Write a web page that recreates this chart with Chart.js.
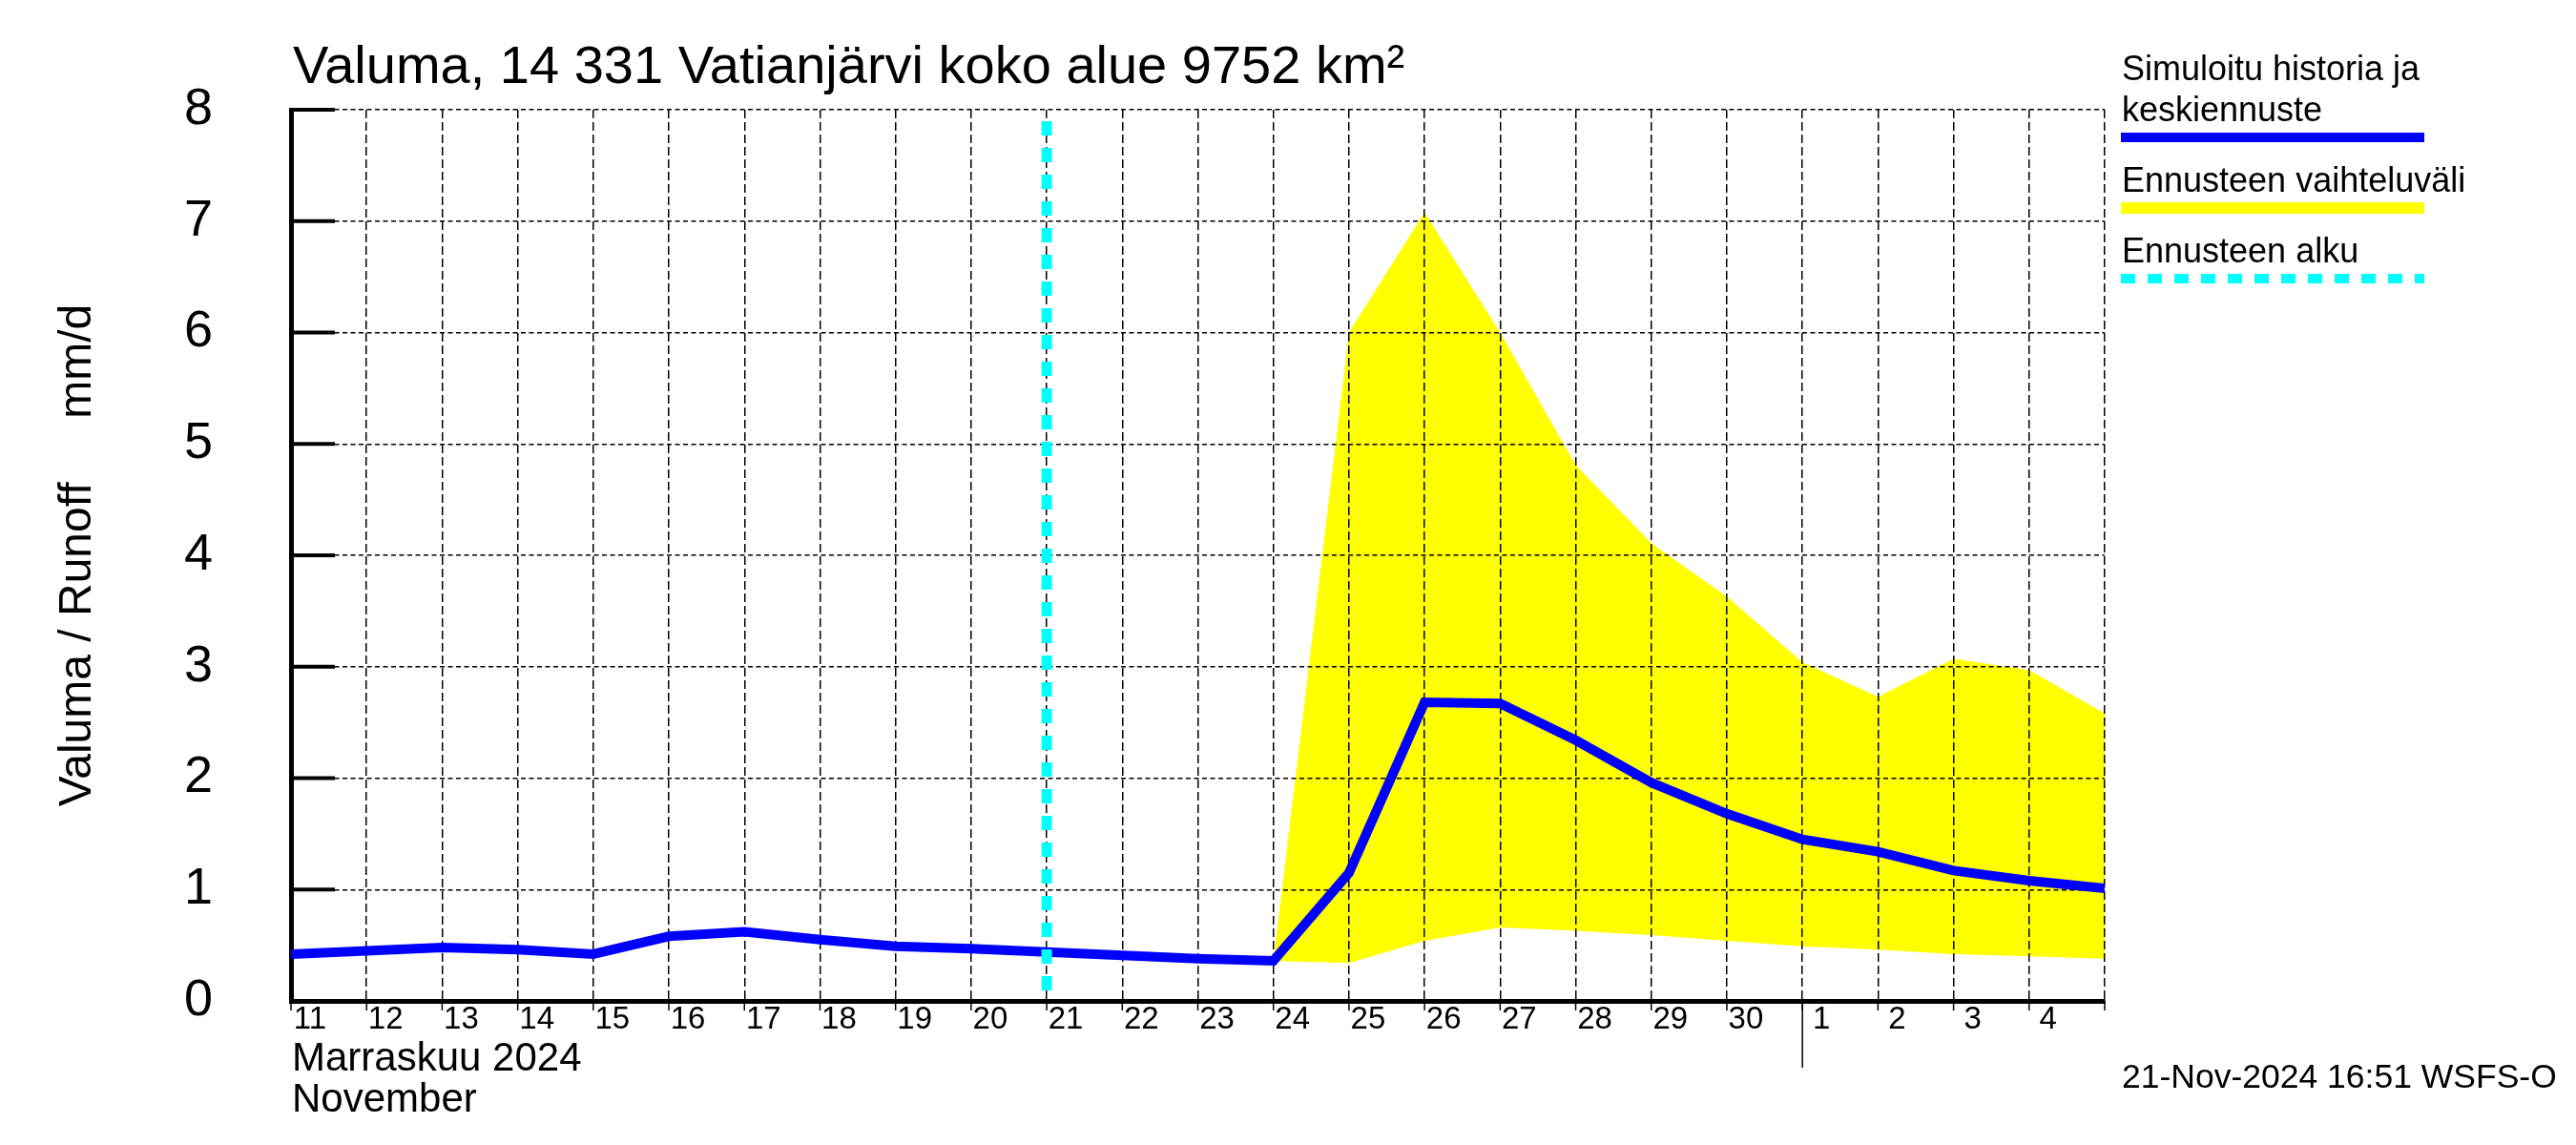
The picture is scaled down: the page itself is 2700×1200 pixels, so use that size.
<!DOCTYPE html>
<html>
<head>
<meta charset="utf-8">
<script src="https://cdn.jsdelivr.net/npm/chart.js@4.4.1/dist/chart.umd.min.js"></script>
<style>
    html, body { margin: 0; padding: 0; background: #fff; }
    canvas { display: block; }
</style>
</head>
<body>
<canvas id="runoffChart" width="2700" height="1200"></canvas>
<script>
const FONT = "'Liberation Sans', Arial, Helvetica, sans-serif";

// days from 11 Nov to 4 Dec 2024, one gridline per day start
const dayLabels = ['11', '12', '13', '14', '15', '16', '17', '18', '19', '20', '21', '22',
    '23', '24', '25', '26', '27', '28', '29', '30', '1', '2', '3', '4'];
const monthLabels = ['Marraskuu 2024', 'November'];
const monthBreak = 20;       // 1 Dec
const forecastStart = 10;    // 21 Nov

// simulated history and mean forecast, mm/d
const runoff = [0.42, 0.45, 0.48, 0.46, 0.42, 0.58, 0.62, 0.55, 0.49, 0.47, 0.44, 0.41,
    0.38, 0.36, 1.15, 2.68, 2.67, 2.34, 1.96, 1.68, 1.45, 1.34, 1.17, 1.08, 1.01];

// forecast range
const rangeHigh = [null, null, null, null, null, null, null, null, null, null, null, null, null,
    0.36, 6.0, 7.08, 6.0, 4.81, 4.11, 3.63, 3.04, 2.73, 3.07, 2.97, 2.58];
const rangeLow = [null, null, null, null, null, null, null, null, null, null, null, null, null,
    0.36, 0.34, 0.54, 0.66, 0.63, 0.59, 0.54, 0.49, 0.46, 0.42, 0.40, 0.38];

const yRange = [0, 8];

const titleText = 'Valuma, 14 331 Vatianjärvi koko alue 9752 km²';
const yTitle = 'Valuma / Runoff     mm/d';
const timestamp = '21-Nov-2024 16:51 WSFS-O';
const legendItems = [
    { lines: ['Simuloitu historia ja', 'keskiennuste'], color: '#0000ff', width: 10, dash: [] },
    { lines: ['Ennusteen vaihteluväli'], color: '#ffff00', width: 12, dash: [] },
    { lines: ['Ennusteen alku'], color: '#00ffff', width: 10, dash: [15, 13] },
];

const toPoints = (values) => values.map((y, x) => ({ x, y }));

const decorations = {
    id: 'decorations',
    afterDraw(chart) {
        const { ctx, chartArea: area, scales: { x, y } } = chart;
        ctx.save();
        ctx.strokeStyle = '#000';

        // short inward ticks on the value axis
        ctx.lineWidth = 4;
        y.ticks.forEach((t) => {
            const py = y.getPixelForValue(t.value);
            ctx.beginPath();
            ctx.moveTo(area.left, py);
            ctx.lineTo(area.left + 46, py);
            ctx.stroke();
        });

        // small ticks under the time axis
        ctx.lineWidth = 1.5;
        x.ticks.forEach((t) => {
            const px = x.getPixelForValue(t.value);
            ctx.beginPath();
            ctx.moveTo(px, area.bottom);
            ctx.lineTo(px, area.bottom + 10);
            ctx.stroke();
        });

        // month change marker
        const mx = x.getPixelForValue(monthBreak);
        ctx.lineWidth = 1.5;
        ctx.beginPath();
        ctx.moveTo(mx, area.bottom);
        ctx.lineTo(mx, area.bottom + 70);
        ctx.stroke();

        ctx.fillStyle = '#000';
        ctx.textAlign = 'left';
        ctx.textBaseline = 'alphabetic';

        ctx.font = `56px ${FONT}`;
        ctx.fillText(titleText, 307, 87);

        ctx.font = `42px ${FONT}`;
        ctx.fillText(monthLabels[0], 306, 1122);
        ctx.fillText(monthLabels[1], 306, 1165);

        ctx.font = `35.5px ${FONT}`;
        ctx.fillText(timestamp, 2224, 1140);

        // legend on the right
        ctx.font = `36px ${FONT}`;
        let baseY = 84;
        legendItems.forEach((item) => {
            item.lines.forEach((line, i) => {
                ctx.fillText(line, 2224, baseY + i * 43);
            });
            const lineY = baseY + (item.lines.length - 1) * 43 + 17;
            ctx.strokeStyle = item.color;
            ctx.lineWidth = item.width;
            ctx.setLineDash(item.dash);
            ctx.beginPath();
            ctx.moveTo(2223, lineY);
            ctx.lineTo(2541, lineY);
            ctx.stroke();
            ctx.setLineDash([]);
            baseY = lineY + 57;
        });

        ctx.restore();
    },
};

const runoffChart = new Chart(document.getElementById('runoffChart'), {
    type: 'line',
    data: {
        datasets: [
            {
                label: 'Ennusteen vaihteluväli',
                data: toPoints(rangeHigh),
                borderWidth: 0,
                pointRadius: 0,
                backgroundColor: '#ffff00',
                fill: '+1',
                spanGaps: false,
            },
            {
                label: 'low',
                data: toPoints(rangeLow),
                borderWidth: 0,
                pointRadius: 0,
                fill: false,
                spanGaps: false,
            },
            {
                label: 'Ennusteen alku',
                data: [{ x: forecastStart, y: yRange[1] }, { x: forecastStart, y: yRange[0] }],
                borderColor: '#00ffff',
                borderWidth: 11,
                borderDash: [15, 13],
                borderDashOffset: 16,
                borderCapStyle: 'butt',
                pointRadius: 0,
                fill: false,
            },
            {
                label: 'Simuloitu historia ja keskiennuste',
                data: toPoints(runoff),
                borderColor: '#0000ff',
                borderWidth: 10,
                pointRadius: 0,
                lineTension: 0,
                fill: false,
            },
        ],
    },
    options: {
        responsive: false,
        animation: false,
        devicePixelRatio: 1,
        layout: {
            padding: { left: 0, top: 115, right: 494, bottom: 0 },
        },
        scales: {
            x: {
                type: 'linear',
                min: 0,
                max: dayLabels.length,
                afterFit: (scale) => { scale.height = 151; },
                grid: {
                    color: '#000',
                    lineWidth: 1.5,
                    drawTicks: false,
                },
                border: {
                    display: true,
                    color: '#000',
                    width: 5,
                    dash: [9, 4],
                },
                ticks: {
                    stepSize: 1,
                    autoSkip: false,
                    maxRotation: 0,
                    padding: 0,
                    labelOffset: 20,
                    color: '#000',
                    font: { family: FONT, size: 33 },
                    callback: (value) => dayLabels[value] ?? '',
                },
            },
            y: {
                min: yRange[0],
                max: yRange[1],
                afterFit: (scale) => { scale.width = 305; },
                grid: {
                    color: '#000',
                    lineWidth: 1.5,
                    drawTicks: false,
                },
                border: {
                    display: true,
                    color: '#000',
                    width: 5,
                    dash: [5, 3.5],
                },
                ticks: {
                    stepSize: 1,
                    padding: 82,
                    color: '#000',
                    font: { family: FONT, size: 54 },
                },
                title: {
                    display: true,
                    text: yTitle,
                    color: '#000',
                    padding: { top: 53, bottom: 0 },
                    font: { family: FONT, size: 48 },
                },
            },
        },
        plugins: {
            legend: { display: false },
            tooltip: { enabled: false },
            filler: { drawTime: 'beforeDraw' },
        },
    },
    plugins: [decorations],
});
</script>
</body>
</html>
